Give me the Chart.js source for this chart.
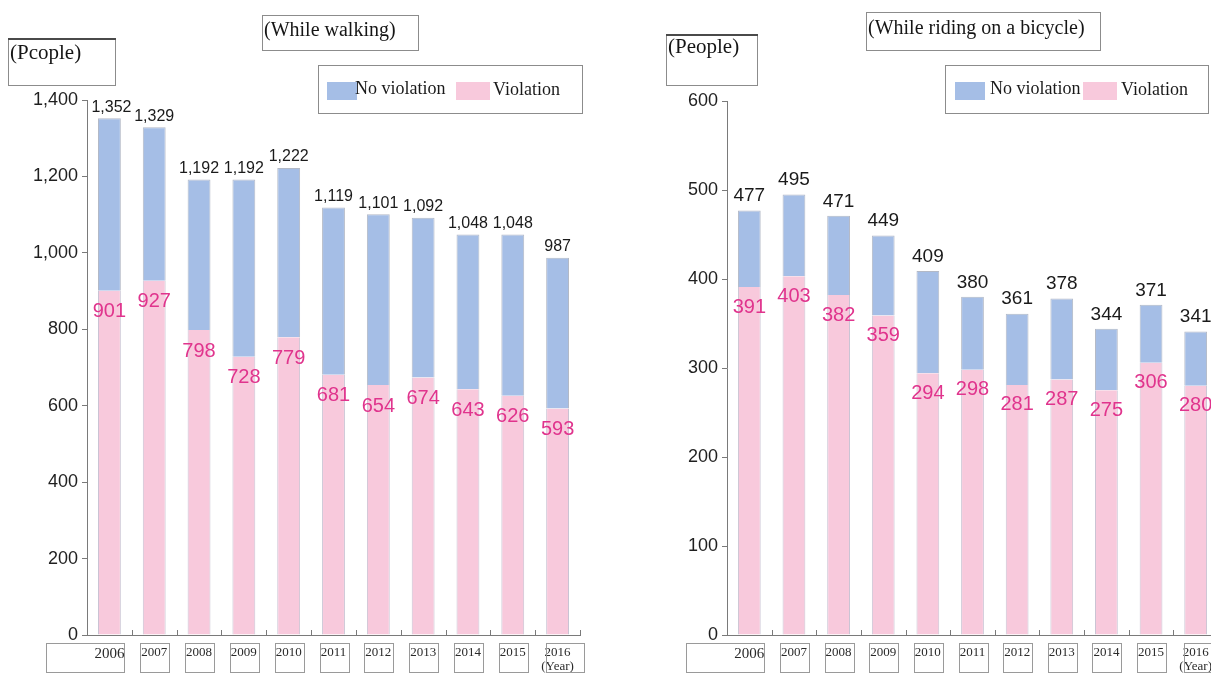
<!DOCTYPE html>
<html>
<head>
<meta charset="utf-8">
<script src="https://cdn.jsdelivr.net/npm/chart.js@4.4.1/dist/chart.umd.min.js"></script>
<style>
  html, body { margin: 0; padding: 0; background: #ffffff; overflow: hidden; width: 1211px; height: 675px; }
  canvas { position: absolute; top: 0; }
  #walk { left: 0; }
  #bike { left: 600px; }
</style>
</head>
<body>
<canvas id="walk" width="600" height="675"></canvas>
<canvas id="bike" width="640" height="675"></canvas>
<script>
// Survey years
const years = ['2006', '2007', '2008', '2009', '2010', '2011', '2012', '2013', '2014', '2015', '2016'];

// While walking: total people and people with a violation
const walkTotal = [1352, 1329, 1192, 1192, 1222, 1119, 1101, 1092, 1048, 1048, 987];
const walkViolation = [901, 927, 798, 728, 779, 681, 654, 674, 643, 626, 593];

// While riding on a bicycle
const bikeTotal = [477, 495, 471, 449, 409, 380, 361, 378, 344, 371, 341];
const bikeViolation = [391, 403, 382, 359, 294, 298, 281, 287, 275, 306, 280];

// Y axis ticks
const walkTicks = [0, 200, 400, 600, 800, 1000, 1200, 1400];
const bikeTicks = [0, 100, 200, 300, 400, 500, 600];

const BLUE = '#a5bee6';
const PINK = '#f8c9dc';
const PINK_TEXT = '#e0348d';
const SANS = '"Liberation Sans", Arial, sans-serif';
const SERIF = '"Liberation Serif", "Times New Roman", serif';

const fmt = v => v.toLocaleString('en-US');

// Boxed captions, legend, tick marks, label frames and value labels
const decor = {
  id: 'decor',
  afterDatasetsDraw(chart, args, o) {
    const ctx = chart.ctx;
    const pinkMeta = chart.getDatasetMeta(0);
    const blueMeta = chart.getDatasetMeta(1);
    ctx.save();
    ctx.textAlign = 'center';
    // totals above the stacks
    ctx.fillStyle = '#1a1a1a';
    ctx.font = o.totalFont;
    ctx.textBaseline = 'bottom';
    blueMeta.data.forEach((el, i) => {
      ctx.fillText(fmt(o.total[i]), el.x + (o.totalShift[i] || 0), el.y - o.totalGap);
    });
    // violation values inside the pink segment
    ctx.fillStyle = PINK_TEXT;
    ctx.font = o.violFont;
    ctx.textBaseline = 'middle';
    pinkMeta.data.forEach((el, i) => {
      ctx.fillText(fmt(o.violation[i]), el.x, el.y + o.violGap);
    });
    ctx.restore();
  },
  afterDraw(chart, args, o) {
    const ctx = chart.ctx;
    const x = chart.scales.x;
    const area = chart.chartArea;
    ctx.save();
    // short upward ticks between categories
    ctx.strokeStyle = '#7a7a7a';
    ctx.lineWidth = 1;
    for (let i = 0; i <= years.length; i++) {
      let px;
      if (i === 0) px = area.left;
      else if (i === years.length) px = area.right;
      else px = (x.getPixelForTick(i - 1) + x.getPixelForTick(i)) / 2;
      px = Math.round(px) + 0.5;
      ctx.beginPath();
      ctx.moveTo(px, area.bottom);
      ctx.lineTo(px, area.bottom - 5);
      ctx.stroke();
    }
    // frames round the year labels
    ctx.strokeStyle = '#9a9a9a';
    for (let i = 0; i < years.length; i++) {
      const c = Math.round(x.getPixelForTick(i));
      let l = c - 14, r = c + 15;
      if (i === 0) l = c - 63;
      if (i === years.length - 1) { l = c - 12; r = c + 26; }
      ctx.strokeRect(l + 0.5, 643.5, r - l, 29);
    }
    // boxed captions
    o.boxes.forEach(b => {
      ctx.strokeStyle = '#8c8c8c';
      ctx.lineWidth = 1;
      ctx.strokeRect(b.x + 0.5, b.y + 0.5, b.w, b.h);
      if (b.heavyTop) {
        ctx.fillStyle = '#4a4a4a';
        ctx.fillRect(b.x, b.y, b.w + 1, 2);
      }
      ctx.fillStyle = '#151515';
      ctx.font = b.font;
      ctx.textAlign = 'left';
      ctx.textBaseline = 'middle';
      ctx.fillText(b.text, b.tx, b.ty);
    });
    // legend
    const lg = o.legend;
    ctx.strokeStyle = '#8c8c8c';
    ctx.strokeRect(lg.x + 0.5, lg.y + 0.5, lg.w, lg.h);
    ctx.fillStyle = BLUE;
    ctx.fillRect(lg.sw1, lg.y + 17, 30, 18);
    ctx.fillStyle = PINK;
    ctx.fillRect(lg.sw2, lg.y + 17, 34, 18);
    ctx.fillStyle = '#1a1a1a';
    ctx.font = '18px ' + SERIF;
    ctx.textAlign = 'left';
    ctx.textBaseline = 'middle';
    ctx.fillText(chart.data.datasets[1].label, lg.t1, lg.y + 24);
    ctx.fillText(chart.data.datasets[0].label, lg.t2, lg.y + 25);
    ctx.restore();
  }
};

function makeChart(id, total, violation, ticks, g) {
  const labels = years.map((y, i) => i === years.length - 1 ? [y, '(Year)'] : y);
  const noViolation = total.map((t, i) => t - violation[i]);
  return new Chart(document.getElementById(id), {
    type: 'bar',
    data: {
      labels: labels,
      datasets: [
        {
          label: 'Violation',
          data: violation,
          backgroundColor: PINK,
          borderColor: '#c9c3d3',
          borderWidth: { left: 1, right: 1, top: 0, bottom: 0 },
          borderSkipped: false,
          barPercentage: 0.51,
          categoryPercentage: 1
        },
        {
          label: 'No violation',
          data: noViolation,
          backgroundColor: BLUE,
          borderColor: '#b3b9c6',
          borderWidth: { left: 1, right: 1, top: 1, bottom: 0 },
          borderSkipped: false,
          barPercentage: 0.51,
          categoryPercentage: 1
        }
      ]
    },
    plugins: [decor],
    options: {
      responsive: false,
      animation: false,
      devicePixelRatio: 1,
      layout: { padding: { top: g.top, right: g.right, left: 0, bottom: 0 } },
      plugins: {
        legend: { display: false },
        tooltip: { enabled: false },
        decor: {
          total: total,
          violation: violation,
          totalFont: g.totalFont,
          violFont: g.violFont,
          totalGap: g.totalGap,
          violGap: g.violGap,
          totalShift: g.totalShift,
          boxes: g.boxes,
          legend: g.legend
        }
      },
      scales: {
        x: {
          stacked: true,
          offset: true,
          grid: { display: true, drawOnChartArea: false, drawTicks: false },
          border: { display: true, color: '#7a7a7a', width: 1 },
          ticks: {
            autoSkip: false,
            maxRotation: 0,
            padding: 11,
            color: '#2a2a2a',
            font: c => ({ family: SERIF, size: c.index === 0 ? 15 : 13, lineHeight: 1.05 })
          },
          afterFit(s) { s.height = 40; }
        },
        y: {
          stacked: true,
          min: ticks[0],
          max: ticks[ticks.length - 1],
          afterBuildTicks(s) { s.ticks = ticks.map(v => ({ value: v })); },
          ticks: {
            callback: v => fmt(v),
            color: '#1f1f1f',
            font: { family: SANS, size: 18 },
            padding: 4
          },
          grid: { drawOnChartArea: false, tickLength: 5, color: '#7a7a7a' },
          border: { color: '#7a7a7a', width: 1 },
          afterFit(s) { s.width = g.axisLeft; }
        }
      }
    }
  });
}

makeChart('walk', walkTotal, walkViolation, walkTicks, {
  top: 100, right: 20, axisLeft: 87,
  totalFont: '16px ' + SANS,
  violFont: '20px ' + SANS,
  totalGap: 3,
  violGap: 21,
  totalShift: { 0: 2 },
  boxes: [
    { x: 8, y: 38, w: 107, h: 47, heavyTop: true, text: '(Pcople)', tx: 10, ty: 53, font: '21px ' + SERIF },
    { x: 262, y: 15, w: 156, h: 35, text: '(While walking)', tx: 264, ty: 31, font: '20px ' + SERIF }
  ],
  legend: { x: 318, y: 65, w: 264, h: 48, sw1: 327, t1: 355, sw2: 456, t2: 493 }
});

makeChart('bike', bikeTotal, bikeViolation, bikeTicks, {
  top: 101, right: 22, axisLeft: 127,
  totalFont: '19px ' + SANS,
  violFont: '20px ' + SANS,
  totalGap: 5,
  violGap: 20,
  totalShift: {},
  boxes: [
    { x: 66, y: 34, w: 91, h: 51, heavyTop: true, text: '(People)', tx: 68, ty: 47, font: '21px ' + SERIF },
    { x: 266, y: 12, w: 234, h: 38, text: '(While riding on a bicycle)', tx: 268, ty: 29, font: '20px ' + SERIF }
  ],
  legend: { x: 345, y: 65, w: 263, h: 48, sw1: 355, t1: 390, sw2: 483, t2: 521 }
});
</script>
</body>
</html>
